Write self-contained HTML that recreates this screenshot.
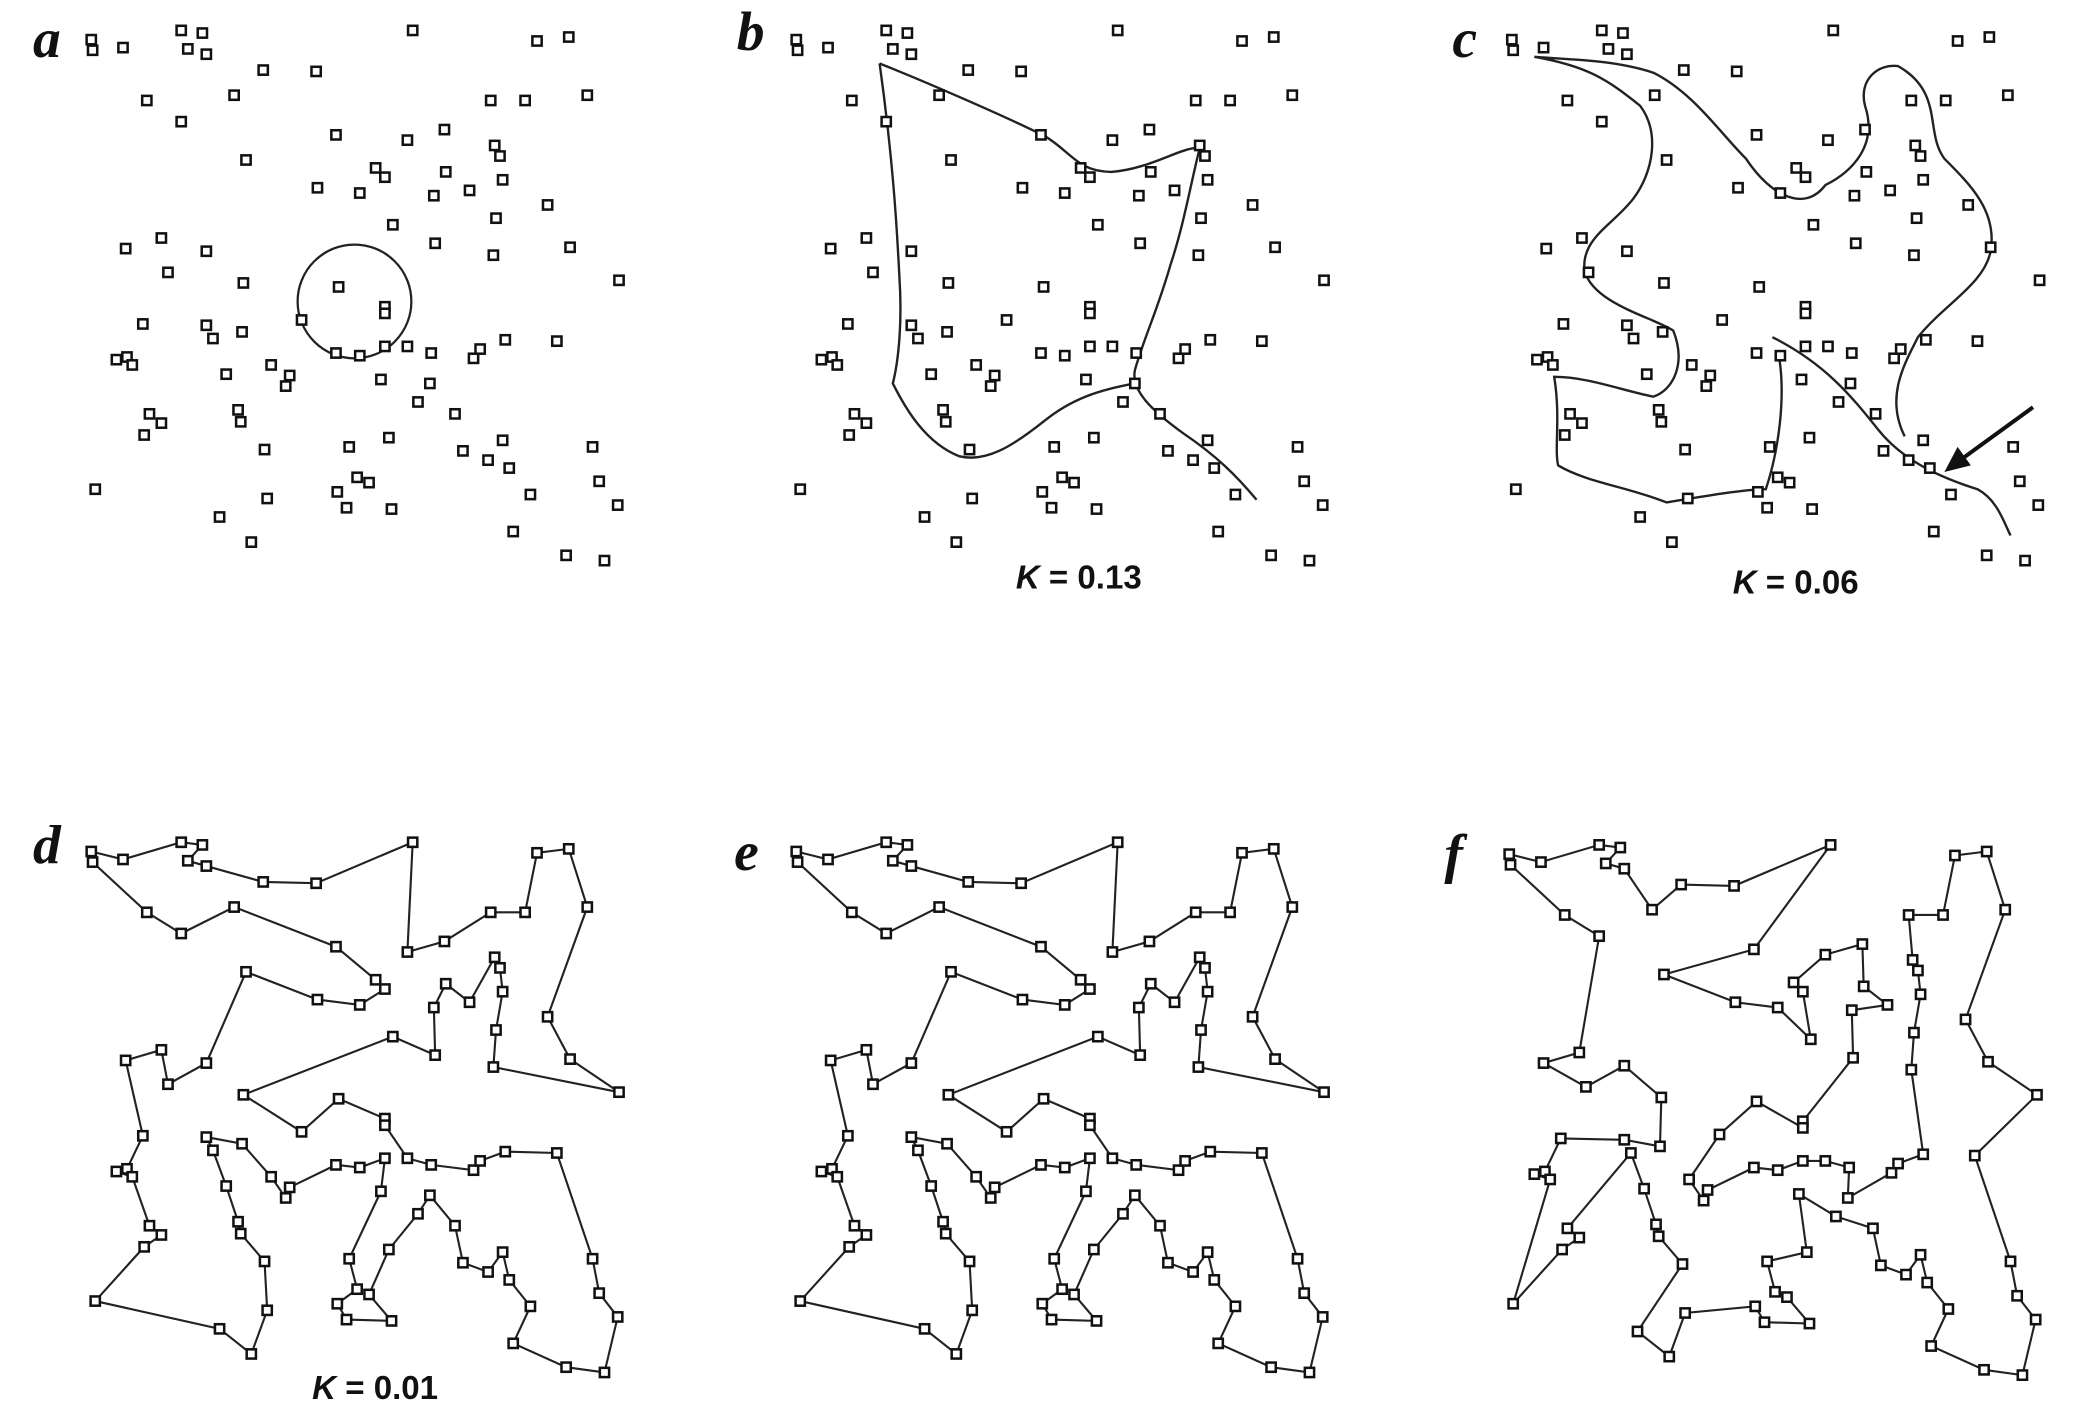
<!DOCTYPE html>
<html><head><meta charset="utf-8"><style>
html,body{margin:0;padding:0;background:#fff;}
svg{display:block;}
.lbl{font-family:"Liberation Serif",serif;font-style:italic;font-size:42px;font-weight:600;fill:#111;}
.k{font-family:"Liberation Sans",sans-serif;font-weight:bold;font-size:25px;fill:#111;}
</style></head><body>
<svg id="fig" width="2074" height="1428" viewBox="0 0 1568 1080" preserveAspectRatio="none" xmlns="http://www.w3.org/2000/svg">
<g>
<text class="lbl" x="25" y="43">a</text>
<text class="lbl" x="557" y="38">b</text>
<text class="lbl" x="1098" y="43">c</text>
<text class="lbl" x="25" y="653">d</text>
<text class="lbl" x="555" y="658">e</text>
<text class="lbl" x="1092" y="660">f</text>
</g>
<text class="k" x="768" y="445"><tspan font-style="italic">K</tspan> = 0.13</text>
<text class="k" x="1310" y="449"><tspan font-style="italic">K</tspan> = 0.06</text>
<text class="k" x="236" y="1058"><tspan font-style="italic">K</tspan> = 0.01</text>
<circle cx="268" cy="228" r="43" fill="none" stroke="#222" stroke-width="1.7"/>
<path fill="none" stroke="#222" stroke-width="1.8"
d="M665,48 C700,62 760,88 790,103 C810,115 815,130 840,130 C870,128 895,110 907,112 C900,140 895,170 885,200 C875,235 865,255 858,280 C855,295 870,310 895,328 C920,345 935,360 950,378 M858,290 C830,295 810,302 790,318 C765,338 745,350 725,345 C700,335 685,310 675,290 C680,270 682,240 680,210 C678,170 675,120 665,48"/>
<path fill="none" stroke="#222" stroke-width="1.8"
d="M1160,43 C1200,50 1215,60 1240,80 C1255,100 1250,130 1235,150 C1220,170 1195,180 1198,205 C1205,230 1250,240 1265,250 C1275,275 1265,295 1250,300 C1225,295 1200,285 1175,285 C1180,315 1175,340 1178,352 C1200,365 1230,368 1260,380 C1290,375 1320,370 1335,370 C1345,340 1350,300 1345,270 M1340,255 C1380,275 1400,300 1420,325 C1440,350 1470,362 1495,370 C1510,378 1515,395 1520,405 M1440,330 C1425,300 1440,275 1450,255 C1470,230 1500,215 1505,190 C1510,160 1490,140 1470,120 C1455,100 1470,70 1435,50 C1420,48 1405,60 1410,80 C1420,110 1400,130 1380,140 C1365,160 1340,150 1320,120 C1300,100 1280,70 1250,55 C1220,45 1185,45 1160,43"/>
<g>
<line x1="1537" y1="308" x2="1482" y2="348" stroke="#111" stroke-width="3"/>
<polygon points="1470,357 1480,338 1490,352" fill="#111"/>
</g>
<g id="marks"></g>
</svg>
<script>
// city coordinates (panel a frame)
const cityX=[69,70,93,137,153,142,156,312,406,430,199,239,111,177,137,371,397,444,254,308,336,374,378,186,284,291,337,240,272,328,355,380,414,297,375,95,122,127,156,329,373,431,468,184,256,291,291,108,156,161,183,228,88,96,100,171,205,219,254,272,291,308,326,358,363,382,421,288,216,325,316,180,182,113,122,109,344,264,294,380,350,369,385,448,200,72,270,279,255,262,296,202,166,401,453,467,388,190,428,457];
const cityY=[30,38,36,23,25,37,41,23,31,28,53,54,76,72,92,76,76,72,102,106,98,110,118,121,127,134,130,142,146,148,144,136,155,170,165,188,180,206,190,184,193,187,212,214,217,232,237,245,246,256,251,242,272,270,276,283,276,284,267,269,262,262,267,271,264,257,258,287,292,290,304,310,319,313,320,329,313,338,331,333,341,348,354,338,340,370,361,365,372,384,385,377,391,374,364,382,402,410,420,424];
const panelDX=[0,533,1074,0,533,1072];
const panelDY=[0,0,0,614,614,616];
const NS='http://www.w3.org/2000/svg';
const marks=document.getElementById('marks');
const n=cityX.length;
function d(i,j){return Math.hypot(cityX[i]-cityX[j],cityY[i]-cityY[j]);}
function tour(start){
  const used=new Array(n).fill(false);let t=[start];used[start]=true;
  for(let k=1;k<n;k++){let c=t[t.length-1],b=-1,bd=1e9;for(let j=0;j<n;j++)if(!used[j]&&d(c,j)<bd){bd=d(c,j);b=j;}t.push(b);used[b]=true;}
  let imp=true;
  while(imp){imp=false;for(let i=0;i<n-1;i++)for(let j=i+2;j<n;j++){const a=t[i],b=t[i+1],c=t[j],e=t[(j+1)%n];if(a===e)continue;if(d(a,c)+d(b,e)<d(a,b)+d(c,e)-1e-9){let l=i+1,r=j;while(l<r){[t[l],t[r]]=[t[r],t[l]];l++;r--;}imp=true;}}}
  return t;
}
const tours={3:tour(0),4:tour(0),5:tour(50)};
for(let p=0;p<6;p++){
  const g=document.createElementNS(NS,'g');
  
  
  const dx=panelDX[p],dy=panelDY[p];
  if(tours[p]){
    const t=tours[p];
    const pl=document.createElementNS(NS,'polygon');
    
    
    pl.setAttribute('points',t.map(i=>(cityX[i]+dx)+','+(cityY[i]+dy)).join(' '));
    pl.setAttribute('fill','none');pl.setAttribute('stroke','#222');pl.setAttribute('stroke-width','1.6');
    g.appendChild(pl);
  }
  for(let i=0;i<n;i++){
    const r=document.createElementNS(NS,'rect');
    
    
    r.setAttribute('x',cityX[i]+dx-3.5);r.setAttribute('y',cityY[i]+dy-3.5);
    r.setAttribute('width',7);r.setAttribute('height',7);
    r.setAttribute('fill','#fff');r.setAttribute('stroke','#111');r.setAttribute('stroke-width','1.9');
    g.appendChild(r);
  }
  marks.appendChild(g);
}
</script>
</body></html>
